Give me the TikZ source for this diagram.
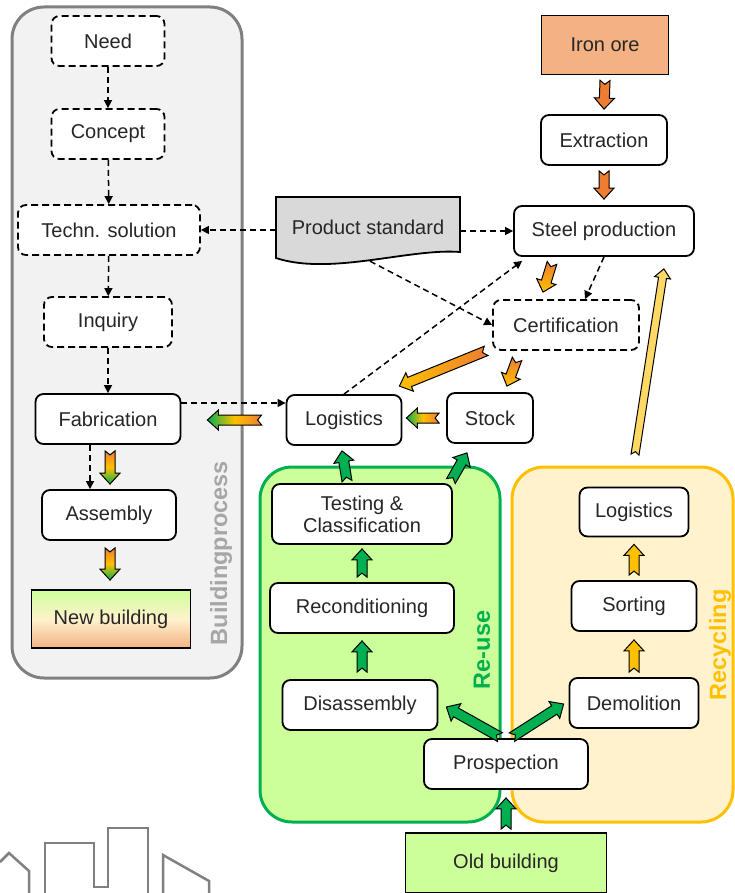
\documentclass[tikz,border=0pt]{standalone}
\usepackage{fontspec}
\setmainfont{Liberation Sans}
\usepackage{tikz}
\usetikzlibrary{calc, positioning, arrows.meta}
\definecolor{orng}{HTML}{ED7D31}
\definecolor{yllw}{HTML}{FFC000}
\definecolor{lyllw}{HTML}{FFD966}
\definecolor{grn}{HTML}{00B050}
\definecolor{lgrn}{HTML}{CCFF99}
\definecolor{cream}{HTML}{FFF2CC}
\definecolor{peach}{HTML}{F4B183}
\definecolor{pgray}{HTML}{808080}
\definecolor{pfill}{HTML}{F2F2F2}
\definecolor{docgray}{HTML}{D9D9D9}
\definecolor{lblgray}{HTML}{A6A6A6}
\definecolor{txt}{HTML}{262626}

\def\aw{5pt}
\def\ahw{10pt}
\def\ahl{11pt}
\def\anotch{4pt}
\newcommand{\blockarrow}[3][]{%
  \coordinate (ba-a) at #2;
  \coordinate (ba-b) at #3;
  \coordinate (ba-c) at ($(ba-b)!\ahl!(ba-a)$);
  \draw[barrow,#1] ($(ba-a)!\aw!90:(ba-b)$) -- ($(ba-a)!\anotch!(ba-b)$)
    -- ($(ba-a)!\aw!-90:(ba-b)$) -- ($(ba-c)!\aw!-90:(ba-b)$)
    -- ($(ba-c)!\ahw!-90:(ba-b)$) -- (ba-b) -- ($(ba-c)!\ahw!90:(ba-b)$)
    -- ($(ba-c)!\aw!90:(ba-b)$) -- cycle;}

\begin{document}
\begin{tikzpicture}[x=1pt, y=-1pt,
    box/.style={draw, line width=1.8pt, rounded corners=8pt, fill=white,
      minimum height=50pt, inner sep=0pt, text=txt,
      font=\fontsize{20}{22}\selectfont},
    dbox/.style={box, dash pattern=on 7pt off 4pt},
    plain/.style={draw, line width=1.8pt, minimum height=59pt, inner sep=0pt,
      text=txt, font=\fontsize{20}{22}\selectfont},
    link/.style={line width=1.5pt, dash pattern=on 6pt off 4pt,
      -{Triangle[length=8pt, width=8pt]}},
    barrow/.style={draw=black, line width=1pt, line join=miter},
    panel/.style={line width=3pt, rounded corners=32pt},
    plabel/.style={rotate=90, font=\fontsize{23.5}{26}\selectfont\bfseries}]
    \useasboundingbox (0,0) rectangle (735,893);

    \draw[panel, draw=pgray, fill=pfill] (12,7) rectangle (242,678);
    \draw[panel, draw=grn, fill=lgrn] (260,467) rectangle (500,822);
    \draw[panel, draw=yllw, fill=cream] (512,467) rectangle (733,822);
    \node[plabel, text=lblgray] (lbp) at (221,553) {Buildingprocess};
    \node[plabel, text=grn] (lre) at (482,650) {Re-use};
    \node[plabel, text=yllw] (lrc) at (720,645) {Recycling};

    \draw[pgray, line width=2.5pt] (0,862) -- (9,853) -- (29,871) -- (29,895);
    \draw[pgray, line width=2.5pt] (45,895) -- (45,843) -- (94,843) -- (94,887)
      -- (108,887) -- (108,828) -- (148,828) -- (148,895);
    \draw[pgray, line width=2.5pt] (163,895) -- (163,855) -- (209,881) -- (209,895);

    \node[dbox, minimum width=113pt] (need) at (108,41) {Need};
    \node[dbox, minimum width=113pt] (concept) at (108,134) {Concept};
    \node[dbox, minimum width=182pt] (techn) at (109,230) {Techn. solution};
    \node[dbox, minimum width=128pt] (inquiry) at (108,322) {Inquiry};
    \node[box, minimum width=145pt] (fab) at (108,419) {Fabrication};
    \node[box, minimum width=134pt] (asm) at (109,515) {Assembly};
    \node[plain, minimum width=159pt, minimum height=58pt, top color=lgrn,
      bottom color=peach, middle color=cream] (newb) at (111,619) {New building};

    \draw[line width=1.8pt, fill=docgray] (276,197) -- (460,197) -- (460,252)
      .. controls (410,248) and (330,276) .. (276,258) -- cycle;
    \node[minimum width=184pt, minimum height=60pt, inner sep=0pt, text=txt,
      font=\fontsize{20}{22}\selectfont] (prod) at (368,227) {Product standard};

    \node[plain, fill=peach, minimum width=127pt] (ore) at (605,45) {Iron ore};
    \node[box, minimum width=126pt] (extr) at (604,140) {Extraction};
    \node[box, minimum width=180pt] (steel) at (604,231) {Steel production};
    \node[dbox, minimum width=146pt] (cert) at (566,325) {Certification};
    \node[box, minimum width=115pt] (logi) at (344,420) {Logistics};
    \node[box, minimum width=86pt] (stock) at (490,418) {Stock};

    \node[box, minimum width=180pt, minimum height=60pt, align=center] (test)
      at (362,514) {Testing \&\\Classification};
    \node[box, minimum width=184pt] (recon) at (362,608) {Reconditioning};
    \node[box, minimum width=155pt] (disas) at (360,705) {Disassembly};
    \node[box, minimum width=109pt, minimum height=49pt] (logr) at (634,512) {Logistics};
    \node[box, minimum width=125pt] (sort) at (634,606) {Sorting};
    \node[box, minimum width=129pt] (demol) at (634,703) {Demolition};
    \node[box, minimum width=164pt] (prosp) at (506,764) {Prospection};
    \node[plain, fill=lgrn, minimum width=201pt, minimum height=60pt] (old)
      at (506,863) {Old building};

    \draw[link] (need) -- (concept);
    \draw[link] (concept) -- (techn);
    \draw[link] (techn) -- (inquiry);
    \draw[link] (inquiry) -- (fab);
    \draw[link] ([xshift=-18pt]fab.south) -- ([xshift=-18pt]fab.south |- asm.north);
    \draw[link] (prod.west |- techn) -- (techn.east);
    \draw[link] (prod.east |- steel) -- (steel.west);
    \draw[link] ($(prod.south)+(2,4)$) -- (cert.west);
    \draw[link] (steel.south) -- ($(cert.north)+(19,0)$);
    \draw[link] (logi.north) -- ($(steel.south west)+(9,4)$);
    \draw[link] ([yshift=16pt]fab.east) -- ([yshift=16pt]fab.east -| logi.west);

    \blockarrow[fill=orng]{($(ore.south)+(0,5)$)}{($(extr.north)+(0,-5)$)}
    \blockarrow[fill=orng]{($(extr.south)+(0,5)$)}{($(steel.north)+(0,-6)$)}
    \blockarrow[top color=orng, bottom color=yllw]{($(steel.south)+(-52,6)$)}{($(cert.north)+(-23,-7)$)}
    \blockarrow[top color=orng, bottom color=yllw]{($(cert.south)+(-49,8)$)}{($(stock.north)+(17,-6)$)}
    \blockarrow[left color=yllw, right color=orng]{($(cert.south west)+(-6,0)$)}{($(logi.north east)+(-3,-8)$)}
    \blockarrow[left color=grn, right color=orng, middle color=yllw]{($(stock.west)+(-7,0)$)}{($(logi.east)+(4,-2)$)}
    \blockarrow[left color=grn, right color=orng, middle color=yllw]{($(logi.west)+(-24,0)$)}{($(fab.east)+(26,1)$)}
    \blockarrow[top color=orng, bottom color=grn, middle color=yllw]{($(fab.south)+(2,6)$)}{($(asm.north)+(1,-5)$)}
    \blockarrow[top color=orng, bottom color=grn, middle color=yllw]{($(asm.south)+(1,7)$)}{($(newb.north)+(-1,-9)$)}

    \blockarrow[fill=grn]{($(old.north)+(0,-3)$)}{($(prosp.south)+(0,8)$)}
    \blockarrow[fill=grn]{($(prosp.north)+(-6,-1)$)}{($(disas.east)+(8,2)$)}
    \blockarrow[fill=grn]{($(prosp.north)+(6,-1)$)}{($(demol.west)+(-5,1)$)}
    \blockarrow[fill=grn]{($(disas.north)+(2,-7)$)}{($(recon.south)+(0,7)$)}
    \blockarrow[fill=grn]{($(recon.north)+(0,-5)$)}{($(test.south)+(0,4)$)}
    \blockarrow[fill=grn]{($(test.north)+(-15,-2)$)}{($(logi.south)+(-2,5)$)}
    \blockarrow[fill=grn]{($(test.north east)+(-2,-2)$)}{($(stock.south)+(-23,9)$)}

    \blockarrow[fill=yllw]{($(demol.north)+(0,-5)$)}{($(sort.south)+(0,8)$)}
    \blockarrow[fill=yllw]{($(sort.north)+(0,-5)$)}{($(logr.south)+(0,7)$)}
    {\def\aw{4pt}\def\ahw{8pt}\def\ahl{9pt}\def\anotch{3pt}
    \blockarrow[fill=lyllw]{($(logr.north)+(1,-32)$)}{($(steel.south east)+(-31,12)$)}}
\end{tikzpicture}
\end{document}
